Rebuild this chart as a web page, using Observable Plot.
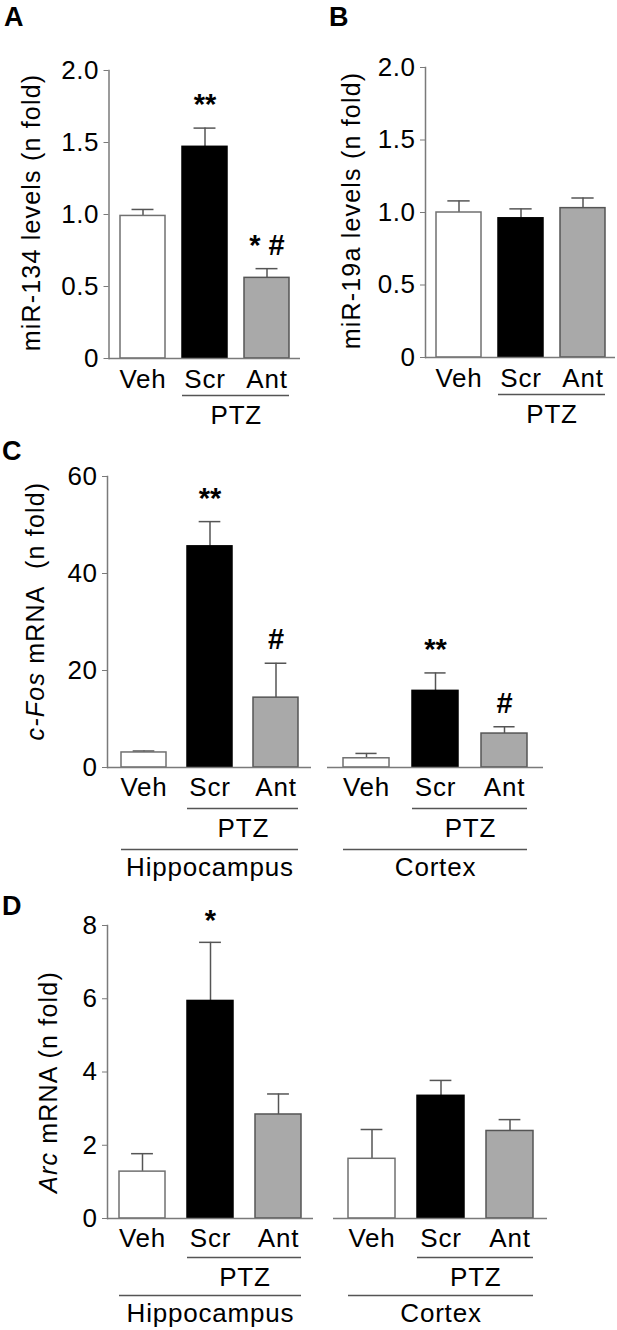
<!DOCTYPE html>
<html>
<head>
<meta charset="utf-8">
<script src="https://cdn.jsdelivr.net/npm/d3@7"></script>
<script src="https://cdn.jsdelivr.net/npm/@observablehq/plot@0.6"></script>
<style>
  body { margin: 0; background: #fff; }
  #fig { position: relative; width: 617px; height: 1330px; overflow: hidden; background: #fff;
         font-family: "Liberation Sans", Arial, Helvetica, sans-serif; }
  .panel { position: absolute; }
  .letter { position: absolute; font-weight: bold; font-size: 27px; line-height: 1.2;
            font-family: "Liberation Sans", Arial, Helvetica, sans-serif; color: #000; }
  svg .lbl text, svg text.lbl { letter-spacing: 0.8px; }
  svg .ylab text, svg text.ylab { letter-spacing: 1.2px; }
  svg [aria-label="y-axis tick label"] text { letter-spacing: 0.5px; }
</style>
</head>
<body>
<div id="fig"></div>
<script>
// ---------- data ----------
const groups = ["Veh", "Scr", "Ant"];
const treatment = "PTZ";
const regions = ["Hippocampus", "Cortex"];
const barFill = ["#ffffff", "#000000", "#a9a9a9"];
const barStroke = ["#707070", "#000000", "#555555"];

// Panel A: miR-134
const miR134Mean = [0.99, 1.47, 0.56];
const miR134Err = [0.045, 0.13, 0.064];
const miR134Sig = ["", "**", "* #"];
// Panel B: miR-19a
const miR19aMean = [1.00, 0.96, 1.03];
const miR19aErr = [0.08, 0.065, 0.07];
// Panel C: c-Fos mRNA
const cFosHippoMean = [3.1, 45.6, 14.4];
const cFosHippoErr = [0.3, 5.1, 7.1];
const cFosHippoSig = ["", "**", "#"];
const cFosCortexMean = [1.9, 15.8, 7.0];
const cFosCortexErr = [1.0, 3.7, 1.4];
const cFosCortexSig = ["", "**", "#"];
// Panel D: Arc mRNA
const arcHippoMean = [1.28, 5.94, 2.84];
const arcHippoErr = [0.49, 1.6, 0.56];
const arcHippoSig = ["", "*", ""];
const arcCortexMean = [1.63, 3.35, 2.39];
const arcCortexErr = [0.8, 0.42, 0.31];

const ticksMiR = [0, 0.5, 1, 1.5, 2];
const ticksCFos = [0, 20, 40, 60];
const ticksArc = [0, 2, 4, 6, 8];

// ---------- drawing ----------
const FONT = '"Liberation Sans", Arial, Helvetica, sans-serif';
const fig = document.getElementById("fig");

function panel(cfg) {
  const L = cfg.layout;
  const rows = groups.map((g, i) => ({
    g, m: cfg.mean[i], e: cfg.err[i], s: cfg.sig ? cfg.sig[i] : "",
    fill: barFill[i], stroke: barStroke[i]
  }));
  const ml = L.fx[0] - L.left, mr = L.left + L.width - L.fx[1];
  const mt = L.fy[0] - L.top, mb = L.top + L.height - L.fy[1];
  const step = (L.fx[1] - L.fx[0]) / (3 - L.pi + 2 * L.po);
  const bw = step * (1 - L.pi);
  const O = cfg.off;

  const marks = [];
  // error bars (upper only)
  marks.push(Plot.ruleX(rows, {x: "g", y1: "m", y2: d => d.m + d.e, stroke: "#555", strokeWidth: 1.5}));
  marks.push(Plot.tickY(rows, {x: "g", y: d => d.m + d.e, stroke: "#555", strokeWidth: 1.5,
    insetLeft: (bw - 22) / 2, insetRight: (bw - 22) / 2}));
  // bars
  marks.push(Plot.barY(rows, {x: "g", y: "m", fill: d => d.fill, stroke: d => d.stroke, strokeWidth: 1.5}));
  // baseline
  marks.push(Plot.ruleY([0], {stroke: "#7a7a7a", strokeWidth: 1.5}));
  // y axis
  if (cfg.showY) {
    marks.push(Plot.frame({anchor: "left", stroke: "#7a7a7a", strokeWidth: 1.5}));
    marks.push(Plot.axisY({ticks: cfg.ticks, tickSize: 5, tickPadding: 5, stroke: "#7a7a7a",
      tickFormat: cfg.fmt, fontSize: 26, label: null}));
    marks.push(Plot.text([cfg.ylabel], {
      frameAnchor: "left", rotate: -90, dx: cfg.ylabDx, dy: cfg.ylabDy, fontSize: 25,
      textAnchor: "middle", lineAnchor: "middle", className: "ylab"
    }));
  }
  // significance marks
  marks.push(Plot.text(rows.filter(d => d.s), {x: "g", y: d => d.m + d.e, text: "s",
    lineAnchor: "bottom", dy: O.sig, fontSize: 29, fontWeight: "bold"}));
  // x labels
  marks.push(Plot.text(groups, {x: d => d, frameAnchor: "bottom", dy: O.xlab, lineAnchor: "middle",
    fontSize: 26, className: "lbl"}));
  // PTZ bracket
  const ptz = [{from: groups[1], to: groups[2], label: treatment}];
  marks.push(Plot.ruleY(ptz, {y: () => 0, x1: "from", x2: "to", dy: O.ptzLine, stroke: "#555", strokeWidth: 1.5}));
  marks.push(Plot.text(ptz, {x: "from", text: "label", frameAnchor: "bottom", dx: step / 2, dy: O.ptzText,
    lineAnchor: "middle", fontSize: 26, className: "lbl"}));
  // region bracket
  if (cfg.region) {
    const reg = [{from: groups[0], to: groups[2], mid: groups[1], label: cfg.region}];
    marks.push(Plot.ruleY(reg, {y: () => 0, x1: "from", x2: "to", dy: O.regLine, stroke: "#555", strokeWidth: 1.5}));
    marks.push(Plot.text(reg, {x: "mid", text: "label", frameAnchor: "bottom", dy: O.regText,
      lineAnchor: "middle", fontSize: 26, className: "lbl"}));
  }

  const svg = Plot.plot({
    width: L.width, height: L.height,
    marginLeft: ml, marginRight: mr, marginTop: mt, marginBottom: mb,
    style: {fontFamily: FONT, fontSize: "26px", color: "#000", background: "transparent", overflow: "visible"},
    x: {domain: groups, paddingInner: L.pi, paddingOuter: L.po, axis: null},
    y: {domain: cfg.domain, axis: null},
    color: {type: "identity"},
    marks
  });

  // italic gene names in y label
  if (cfg.showY && cfg.italic) {
    svg.querySelectorAll(".ylab text, text.ylab").forEach(t => {
      const full = t.textContent;
      const rest = full.slice(cfg.italic.length);
      t.textContent = "";
      const ns = "http://www.w3.org/2000/svg";
      const a = document.createElementNS(ns, "tspan");
      a.setAttribute("font-style", "italic");
      a.textContent = cfg.italic;
      const b = document.createElementNS(ns, "tspan");
      b.textContent = rest;
      t.appendChild(a); t.appendChild(b);
    });
  }
  const div = document.createElement("div");
  div.className = "panel";
  div.style.left = L.left + "px";
  div.style.top = L.top + "px";
  div.appendChild(svg);
  fig.appendChild(div);
}

function letter(txt, x, y) {
  const d = document.createElement("div");
  d.className = "letter";
  d.textContent = txt;
  d.style.left = x + "px";
  d.style.top = y + "px";
  fig.appendChild(d);
}

const fmtMiR = d => d === 0 ? "0" : d.toFixed(1);
const fmtInt = d => String(d);
const offTop = {sig: -14, xlab: 21, ptzLine: 37, ptzText: 57};
const offC = {sig: -14, xlab: 20, ptzLine: 41, ptzText: 61, regLine: 82, regText: 100};
const offD = {sig: -12, xlab: 20, ptzLine: 39, ptzText: 59, regLine: 77, regText: 95};

panel({mean: miR134Mean, err: miR134Err, sig: miR134Sig, domain: [0, 2], ticks: ticksMiR, fmt: fmtMiR,
  showY: true, ylabel: "miR-134 levels (n fold)", ylabDx: -77, ylabDy: -2, off: offTop,
  layout: {left: 0, top: 0, width: 305, height: 440, fx: [108.5, 300], fy: [70, 358], pi: 0.28, po: 0.17}});
panel({mean: miR19aMean, err: miR19aErr, domain: [0, 2], ticks: ticksMiR, fmt: fmtMiR,
  showY: true, ylabel: "miR-19a levels (n fold)", ylabDx: -74, ylabDy: -2, off: offTop,
  layout: {left: 310, top: 0, width: 307, height: 440, fx: [425, 615], fy: [67, 357], pi: 0.28, po: 0.17}});
panel({mean: cFosHippoMean, err: cFosHippoErr, sig: cFosHippoSig, domain: [0, 60], ticks: ticksCFos, fmt: fmtInt,
  showY: true, ylabel: "c-Fos mRNA\u00a0 (n fold)", italic: "c-Fos", ylabDx: -72, ylabDy: -11, off: offC,
  region: regions[0],
  layout: {left: 0, top: 440, width: 315, height: 450, fx: [107, 311], fy: [476, 767], pi: 0.32, po: 0.19}});
panel({mean: cFosCortexMean, err: cFosCortexErr, sig: cFosCortexSig, domain: [0, 60], off: offC,
  showY: false, region: regions[1],
  layout: {left: 318, top: 440, width: 299, height: 450, fx: [327, 543], fy: [476, 767], pi: 0.33, po: 0.21}});
panel({mean: arcHippoMean, err: arcHippoErr, sig: arcHippoSig, domain: [0, 8], ticks: ticksArc, fmt: fmtInt,
  showY: true, ylabel: "Arc mRNA (n fold)", italic: "Arc", ylabDx: -59, ylabDy: 10, off: offD,
  region: regions[0],
  layout: {left: 0, top: 890, width: 316, height: 440, fx: [107, 313], fy: [925, 1218], pi: 0.33, po: 0.16}});
panel({mean: arcCortexMean, err: arcCortexErr, domain: [0, 8], off: offD,
  showY: false, region: regions[1],
  layout: {left: 318, top: 890, width: 299, height: 440, fx: [333, 547], fy: [925, 1218], pi: 0.32, po: 0.2}});

letter("A", 4, 1);
letter("B", 329, 1);
letter("C", 2, 435);
letter("D", 2, 890);
</script>
</body>
</html>
